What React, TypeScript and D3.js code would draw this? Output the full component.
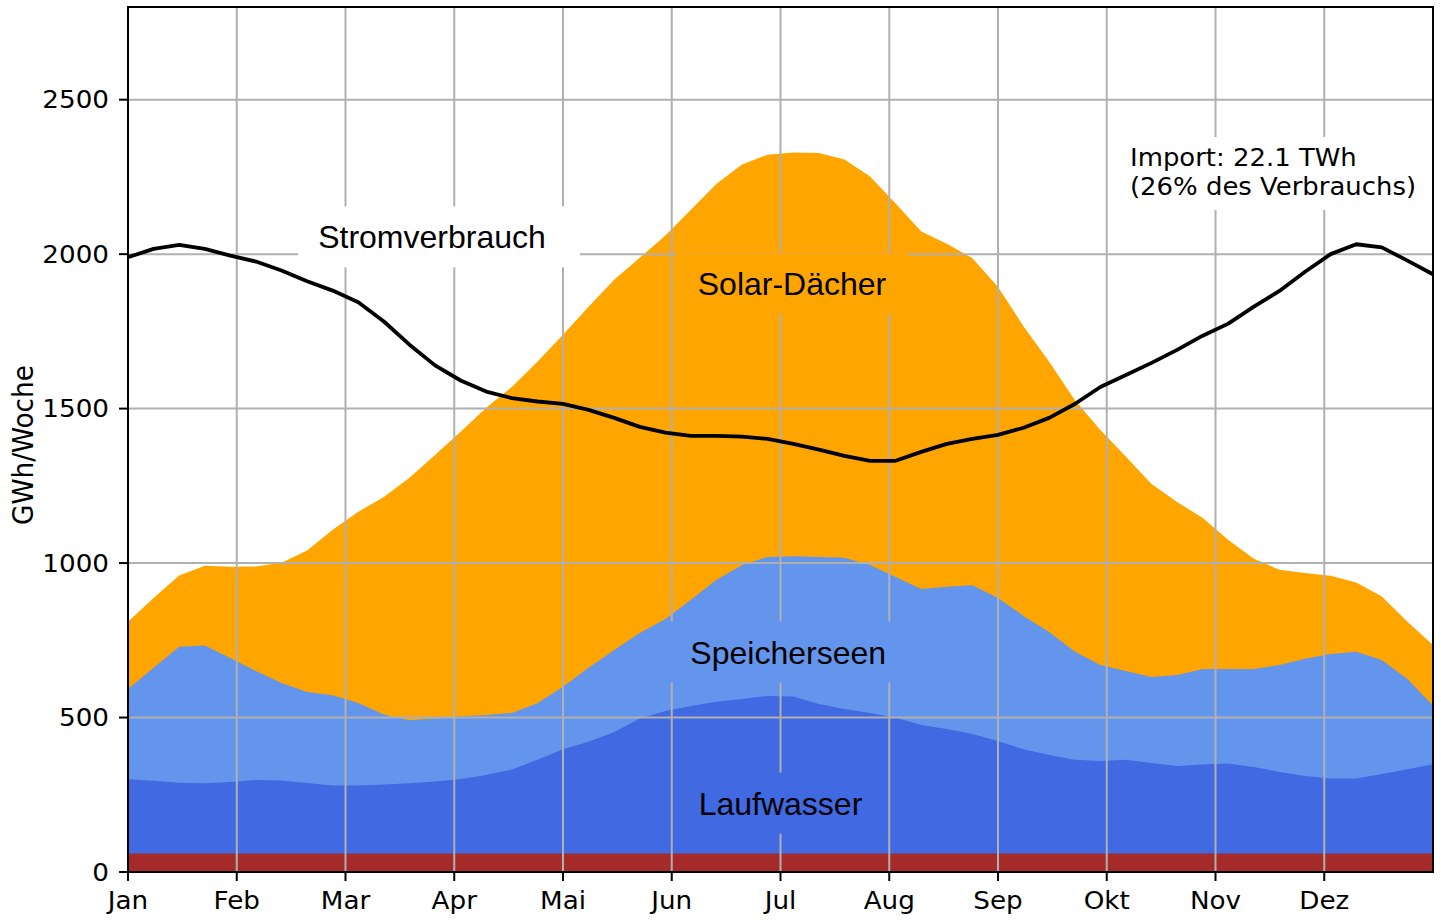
import React from "react";
import * as d3 from "d3";

// Wochenwerte in GWh/Woche
const months = ["Jan", "Feb", "Mar", "Apr", "Mai", "Jun", "Jul", "Aug", "Sep", "Okt", "Nov", "Dez"];
const yTicks = [0, 500, 1000, 1500, 2000, 2500];

const sonstige = [
  60, 60, 60, 60, 60, 60, 60, 60, 60, 60, 60, 60, 60, 60, 60, 60, 60, 60, 60, 60, 60, 60, 60, 60, 60, 60,
  60, 60, 60, 60, 60, 60, 60, 60, 60, 60, 60, 60, 60, 60, 60, 60, 60, 60, 60, 60, 60, 60, 60, 60, 60, 60,
];
const laufwasser = [
  240, 235, 229, 227, 231, 238, 236, 228, 220, 220, 223, 227, 233, 241, 254, 272, 303, 337, 362, 393, 437, 461,
  477, 491, 500, 510, 508, 484, 468, 455, 439, 416, 403, 387, 364, 337, 319, 303, 299, 303, 293, 283, 288, 291,
  280, 264, 251, 243, 243, 257, 273, 289,
];
const speicherseen = [
  292, 366, 440, 446, 402, 353, 316, 295, 292, 267, 227, 204, 204, 203, 194, 183, 183, 203, 239, 266, 277, 298,
  344, 395, 434, 450, 454, 476, 489, 479, 456, 440, 460, 481, 463, 432, 398, 351, 311, 288, 278, 295, 309, 306,
  317, 346, 379, 403, 410, 369, 292, 190,
];
const solar = [
  218, 226, 231, 258, 295, 338, 389, 458, 536, 619, 704, 785, 853, 921, 995, 1055, 1106, 1139, 1169, 1198, 1214,
  1241, 1263, 1282, 1296, 1302, 1307, 1307, 1289, 1257, 1209, 1157, 1111, 1059, 1007, 937, 875, 814, 761, 693,
  625, 560, 489, 418, 357, 308, 278, 253, 224, 206, 185, 196,
];
const verbrauch = [
  1990, 2017, 2030, 2017, 1995, 1976, 1947, 1912, 1882, 1844, 1782, 1707, 1640, 1591, 1555, 1534, 1523, 1515,
  1496, 1470, 1441, 1422, 1412, 1412, 1409, 1402, 1386, 1367, 1347, 1331, 1331, 1360, 1386, 1402, 1415, 1438,
  1470, 1515, 1570, 1609, 1648, 1690, 1736, 1775, 1830, 1881, 1943, 2000, 2032, 2022, 1979, 1935,
];

const keys = ["sonstige", "laufwasser", "speicherseen", "solar"];
const colors: Record<string, string> = {
  sonstige: "#a52a2a",
  laufwasser: "#4169e1",
  speicherseen: "#6495ed",
  solar: "#ffa500",
};

const W = 1441;
const H = 924;
const left = 128;
const right = 1433;
const top = 7;
const bottom = 872;
const stretch = 1.07; // the reference text is a little wider than DejaVu Sans

export default function App() {
  const x = d3.scaleLinear().domain([0, verbrauch.length - 1]).range([left, right]);
  const y = d3.scaleLinear().domain([0, 2800]).range([bottom, top]);

  const rows = verbrauch.map((_, i) => ({
    i,
    sonstige: sonstige[i],
    laufwasser: laufwasser[i],
    speicherseen: speicherseen[i],
    solar: solar[i],
  }));
  const series = d3.stack<any>().keys(keys)(rows);

  // each layer filled down to zero, drawn top-first, so no seams between layers
  const area = d3
    .area<any>()
    .x((d) => x(d.data.i))
    .y0(y(0))
    .y1((d) => y(d[1]));

  const line = d3
    .line<number>()
    .x((_, i) => x(i))
    .y((d) => y(d));

  const monthPos = months.map((_, i) => x((i * (verbrauch.length - 1)) / 12));

  const labels = [
    { text: "Stromverbrauch", wk: 11.88, val: 2056, fill: "white", boxW: 282, dx: 7 },
    { text: "Solar-Dächer", wk: 25.95, val: 1904, fill: colors.solar, boxW: 232, dx: 0 },
    { text: "Speicherseen", wk: 25.8, val: 712, fill: colors.speicherseen, boxW: 238, dx: 0 },
    { text: "Laufwasser", wk: 25.5, val: 223, fill: colors.laufwasser, boxW: 207, dx: 0 },
  ];

  const tickFont = "DejaVu Sans, Verdana, sans-serif";

  return (
    <div style={{ position: "absolute", left: 0, top: 0 }}>
      <svg width={W} height={H} style={{ display: "block", background: "white" }}>
        {series
          .slice()
          .reverse()
          .map((s) => (
            <path key={s.key} d={area(s) || ""} fill={colors[s.key]} />
          ))}

        {/* grid */}
        <g stroke="#b0b0b0" strokeWidth={2}>
          {monthPos.map((px, i) => (
            <line key={"gx" + i} x1={px} x2={px} y1={top} y2={bottom} />
          ))}
          {yTicks.map((t) => (
            <line key={"gy" + t} x1={left} x2={right} y1={y(t)} y2={y(t)} />
          ))}
        </g>

        <path d={line(verbrauch) || ""} fill="none" stroke="black" strokeWidth={3.8} strokeLinejoin="round" />

        {/* labels with boxes */}
        {labels.map((l) => {
          const cx = x(l.wk);
          const cy = y(l.val);
          return (
            <g key={l.text}>
              <rect x={cx - l.boxW / 2 + l.dx} y={cy - 30.5} width={l.boxW} height={61} fill={l.fill} />
              <text
                x={cx}
                y={cy + 11.5}
                textAnchor="middle"
                fontFamily="Liberation Sans, Arial, sans-serif"
                fontSize={32}
                fill="black"
              >
                {l.text}
              </text>
            </g>
          );
        })}

        {/* import annotation */}
        <g>
          <rect x={1120} y={137} width={306} height={73} fill="white" />
          <g transform={`translate(1130, 0) scale(${stretch + 0.01}, 1)`}>
            <text x={0} y={166} fontFamily={tickFont} fontSize={24} fill="black">
              Import: 22.1 TWh
            </text>
            <text x={0} y={195} fontFamily={tickFont} fontSize={24} fill="black">
              (26% des Verbrauchs)
            </text>
          </g>
        </g>

        {/* spines */}
        <rect x={left} y={top} width={right - left} height={bottom - top} fill="none" stroke="black" strokeWidth={2} />

        {/* y axis */}
        {yTicks.map((t) => (
          <g key={"yt" + t}>
            <line x1={left - 9} x2={left} y1={y(t)} y2={y(t)} stroke="black" strokeWidth={2} />
            <text
              transform={`translate(${left - 19}, ${y(t) + 8.8}) scale(${stretch}, 1)`}
              textAnchor="end"
              fontFamily={tickFont}
              fontSize={24.5}
              fill="black"
            >
              {t}
            </text>
          </g>
        ))}

        {/* x axis */}
        {months.map((m, i) => (
          <g key={m}>
            <line x1={monthPos[i]} x2={monthPos[i]} y1={bottom} y2={bottom + 9} stroke="black" strokeWidth={2} />
            <text
              transform={`translate(${monthPos[i]}, 909) scale(${stretch}, 1)`}
              textAnchor="middle"
              fontFamily={tickFont}
              fontSize={24.5}
              fill="black"
            >
              {m}
            </text>
          </g>
        ))}

        <text
          transform={`translate(33, 445) rotate(-90)`}
          textAnchor="middle"
          fontFamily="DejaVu Sans Condensed, DejaVu Sans, sans-serif"
          fontSize={29}
          textLength={160}
          lengthAdjust="spacingAndGlyphs"
          fill="black"
        >
          GWh/Woche
        </text>
      </svg>
    </div>
  );
}
